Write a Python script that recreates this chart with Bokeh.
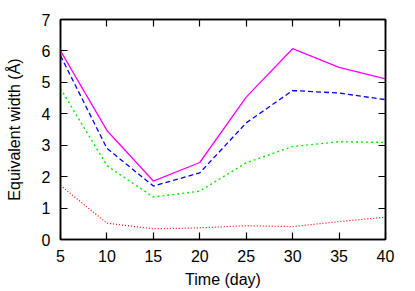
from bokeh.plotting import figure
from bokeh.models import LinearAxis, FixedTicker, Range1d
from bokeh.embed import file_html
from bokeh.resources import INLINE

time_day = [5, 10, 15, 20, 25, 30, 35, 40]
magenta_vals = [6.0, 3.47, 1.86, 2.45, 4.53, 6.07, 5.48, 5.11]
blue_vals = [5.85, 2.9, 1.70, 2.12, 3.71, 4.74, 4.66, 4.45]
green_vals = [4.8, 2.35, 1.35, 1.54, 2.44, 2.96, 3.11, 3.09]
red_vals = [1.72, 0.52, 0.34, 0.37, 0.44, 0.41, 0.57, 0.71]
x_ticks = [5, 10, 15, 20, 25, 30, 35, 40]
y_ticks = [0, 1, 2, 3, 4, 5, 6, 7]

FONT = "Liberation Sans"

p = figure(width=415, height=291, output_backend="svg", toolbar_location=None,
           x_range=Range1d(5, 40), y_range=Range1d(0, 7),
           min_border_left=60, min_border_right=30, min_border_top=19, min_border_bottom=52)
p.xgrid.visible = False
p.ygrid.visible = False
p.outline_line_color = "black"
p.outline_line_width = 1.5
p.background_fill_color = "white"
p.border_fill_color = "white"

def style(ax, labels=True):
    ax.major_tick_in = 7
    ax.major_tick_out = 0
    ax.minor_tick_in = 0
    ax.minor_tick_out = 0
    ax.axis_line_color = "black"
    ax.axis_line_width = 1.5
    ax.major_tick_line_color = "black"
    ax.major_tick_line_width = 1.2
    ax.major_label_text_font = FONT
    ax.major_label_text_font_size = "16px"
    ax.major_label_text_color = "black"
    ax.axis_label_text_font = FONT
    ax.axis_label_text_font_size = "16px"
    ax.axis_label_text_font_style = "normal"
    ax.axis_label_text_color = "black"
    ax.major_label_standoff = 10
    if not labels:
        ax.major_label_text_font_size = "0px"
        ax.major_label_text_alpha = 0

p.xaxis.ticker = FixedTicker(ticks=x_ticks)
p.yaxis.ticker = FixedTicker(ticks=y_ticks)
p.xaxis.axis_label = "Time (day)"
p.yaxis.axis_label = "Equivalent width (Å)"
style(p.xaxis[0])
style(p.yaxis[0])
p.yaxis.major_label_standoff = 10
p.xaxis.axis_label_standoff = 6
p.yaxis.axis_label_standoff = 16

top = LinearAxis(ticker=FixedTicker(ticks=x_ticks))
right = LinearAxis(ticker=FixedTicker(ticks=y_ticks))
style(top, labels=False)
style(right, labels=False)
top.major_label_standoff = 0
right.major_label_standoff = 0
p.add_layout(top, "above")
p.add_layout(right, "right")

p.line(time_day, red_vals, line_color="#ff0000", line_width=1.2, line_dash="1 2")
p.line(time_day, green_vals, line_color="#00ee00", line_width=1.4, line_dash="2 3")
p.line(time_day, blue_vals, line_color="#0000ff", line_width=1.3, line_dash="5 3")
p.line(time_day, magenta_vals, line_color="#ff00ff", line_width=1.3)

open("out.html", "w").write(file_html(p, INLINE))
